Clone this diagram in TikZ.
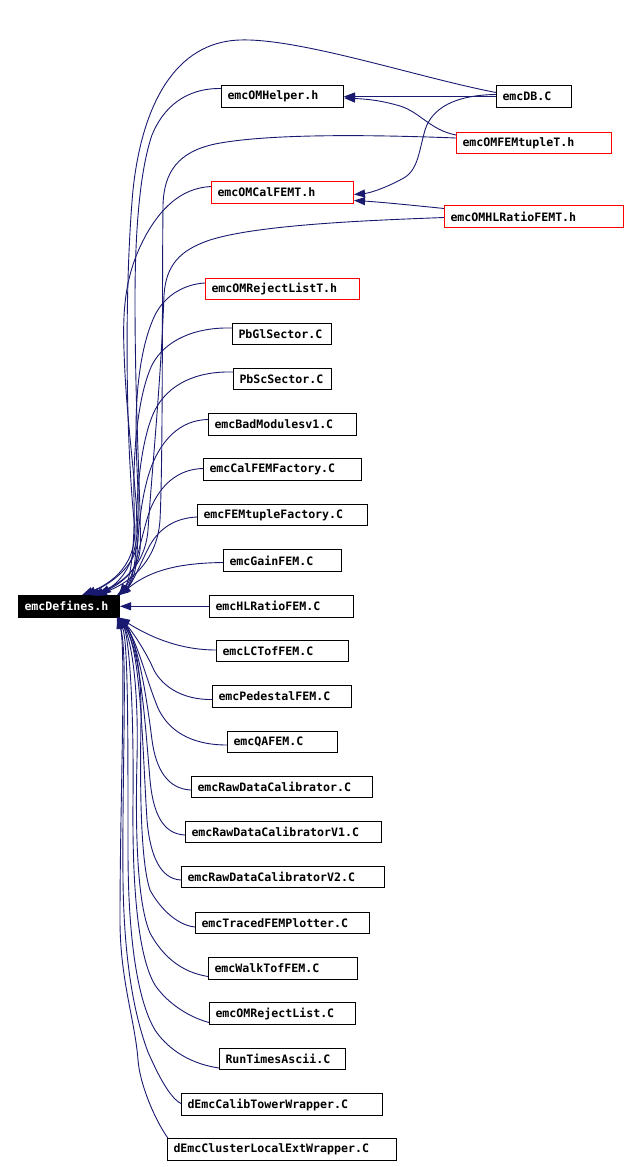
\documentclass[tikz,border=0pt]{standalone}
\usepackage{fontspec}
\setmonofont{DejaVu Sans Mono}
\usepackage{xcolor}
\usepackage{tikz}
\usetikzlibrary{arrows.meta, positioning, calc}
\definecolor{edgeblue}{HTML}{191970}
\definecolor{boxred}{HTML}{FF0000}
\tikzset{
    file/.style={draw=black, line width=1pt, anchor=west, minimum height=21.5pt,
        inner xsep=6pt, inner ysep=0pt, align=left,
        font=\fontsize{11.6}{13}\selectfont\ttfamily\bfseries},
    redfile/.style={file, draw=boxred},
    edge/.style={draw=edgeblue, line width=0.9pt, -{Triangle[length=11pt,width=8pt]}}
}

\begin{document}
\begin{tikzpicture}[x=1pt, y=-1pt]
                \useasboundingbox (0,0) rectangle (639,1167);

                \node[file, fill=black, text=white, text width=89pt] (def) at (18,606.3) {emcDefines.h};

                \node[file, text width=110pt] (helper) at (221,96.5) {emcOMHelper.h};
                \node[file, text width=63pt] (db) at (496,96.5) {emcDB.C};
                \node[redfile, text width=143pt] (tuple) at (456,143) {emcOMFEMtupleT.h};
                \node[redfile, text width=130pt] (calfemt) at (211,192.5) {emcOMCalFEMT.h};
                \node[redfile, text width=167pt] (hlratiot) at (444,216.5) {emcOMHLRatioFEMT.h};
                \node[redfile, text width=142pt] (rejectt) at (205,289) {emcOMRejectListT.h};

                \node[file, text width=87pt] (pbgl) at (232,334) {PbGlSector.C};
                \node[file, text width=86pt] (pbsc) at (233,379) {PbScSector.C};
                \node[file, text width=136pt] (badmod) at (208,424.5) {emcBadModulesv1.C};
                \node[file, text width=146pt] (calfac) at (203,469.5) {emcCalFEMFactory.C};
                \node[file, text width=158pt] (femfac) at (197,515) {emcFEMtupleFactory.C};
                \node[file, text width=106pt] (gain) at (223,560.5) {emcGainFEM.C};
                \node[file, text width=132pt] (hlfem) at (209,606.3) {emcHLRatioFEM.C};
                \node[file, text width=120pt] (lctof) at (216,651) {emcLCTofFEM.C};
                \node[file, text width=127pt] (ped) at (212,696.5) {emcPedestalFEM.C};
                \node[file, text width=98pt] (qa) at (227,742) {emcQAFEM.C};
                \node[file, text width=169pt] (rawcal) at (191,787) {emcRawDataCalibrator.C};
                \node[file, text width=184pt] (rawv1) at (185,832) {emcRawDataCalibratorV1.C};
                \node[file, text width=191pt] (rawv2) at (181,877) {emcRawDataCalibratorV2.C};
                \node[file, text width=162pt] (traced) at (195,923) {emcTracedFEMPlotter.C};
                \node[file, text width=137pt] (walk) at (208,968.5) {emcWalkTofFEM.C};
                \node[file, text width=134pt] (omrej) at (209,1013.5) {emcOMRejectList.C};
                \node[file, text width=114pt] (runtimes) at (219,1059) {RunTimesAscii.C};
                \node[file, text width=189pt] (calibtow) at (181,1104.5) {dEmcCalibTowerWrapper.C};
                \node[file, text width=217pt] (clusterext) at (167,1149.5) {dEmcClusterLocalExtWrapper.C};

                \draw[edge] (db.west) -- (helper.east);
                \draw[edge] ([yshift=8pt]tuple.west) .. controls (430,130) and (420,112) .. (400,106)
                    .. controls (380,100) and (365,99) .. ([yshift=-1.5pt]helper.east);
                \draw[edge] ([yshift=2pt]db.west) .. controls (455,95) and (432,108) .. (425,130)
                    .. controls (418,155) and (418,172) .. (400,180)
                    .. controls (385,188) and (370,193) .. ([yshift=-2pt]calfemt.east);
                \draw[edge] ([yshift=8pt]hlratiot.west) .. controls (420,206) and (380,202) .. ([yshift=-8pt]calfemt.east);

                \draw[edge] ([yshift=4pt]db.west) .. controls (420,78) and (300,38) .. (240,40)
                    .. controls (175,42) and (142,105) .. (133,190)
                    .. controls (124,290) and (126,440) .. (134,520)
                    .. controls (140,565) and (110,584) .. ([xshift=64pt]def.north west);
                \draw[edge] ([yshift=6pt]calfemt.west) .. controls (180,188) and (160,210) .. (146,235)
                    .. controls (128,268) and (122,300) .. (124,350)
                    .. controls (126,420) and (137,490) .. (138,535)
                    .. controls (139,568) and (105,586) .. ([xshift=67pt]def.north west);
                \draw[edge] ([yshift=8pt]helper.west) .. controls (185,88) and (163,108) .. (152,135)
                    .. controls (140,170) and (135,230) .. (135,300)
                    .. controls (135,420) and (142,520) .. (140,550)
                    .. controls (138,575) and (112,588) .. ([xshift=70pt]def.north west);
                \draw[edge] ([yshift=-1pt]hlratiot.west) .. controls (380,220) and (260,224) .. (210,240)
                    .. controls (180,250) and (166,265) .. (164,295)
                    .. controls (161,380) and (152,470) .. (148,530)
                    .. controls (145,568) and (118,587) .. ([xshift=74pt]def.north west);
                \draw[edge] ([yshift=5pt]tuple.west) .. controls (380,135) and (270,133) .. (215,144)
                    .. controls (178,152) and (164,172) .. (163,205)
                    .. controls (162,300) and (163,460) .. (160,520)
                    .. controls (157,565) and (125,585) .. ([xshift=78pt]def.north west);
                \draw[edge] ([yshift=6pt]rejectt.west) .. controls (185,284) and (165,295) .. (155,315)
                    .. controls (143,340) and (136,380) .. (136,430)
                    .. controls (136,500) and (150,560) .. ([xshift=82pt]def.north west);

                \draw[edge] ([yshift=6pt]pbgl.west) .. controls (195,327) and (165,340) .. (152,365)
                    .. controls (138,395) and (133,450) .. (134,500)
                    .. controls (135,550) and (130,580) .. ([xshift=-1pt]def.north east);
                \draw[edge] ([yshift=7pt]pbsc.west) .. controls (195,371) and (168,385) .. (155,410)
                    .. controls (140,440) and (136,500) .. (136,540)
                    .. controls (136,570) and (130,585) .. ([xshift=-2pt]def.north east);
                \draw[edge] ([yshift=5pt]badmod.west) .. controls (180,420) and (162,440) .. (152,465)
                    .. controls (142,490) and (138,530) .. (137,555)
                    .. controls (136,578) and (128,588) .. ([xshift=-3pt]def.north east);
                \draw[edge] ([yshift=1pt]calfac.west) .. controls (178,469) and (160,485) .. (150,510)
                    .. controls (142,532) and (135,575) .. ([xshift=-1pt]def.north east);
                \draw[edge] ([yshift=-2pt]femfac.west) .. controls (175,518) and (160,528) .. (150,545)
                    .. controls (142,560) and (132,585) .. ([xshift=-2pt]def.north east);
                \draw[edge] ([yshift=-2pt]gain.west) .. controls (180,563) and (150,570) .. (def.north east);

                \draw[edge] (hlfem.west) -- (def.east);

                \draw[edge] ([yshift=1pt]lctof.west) .. controls (180,650) and (150,637) .. ([xshift=-1pt]def.south east);
                \draw[edge] ([yshift=-3pt]ped.west) .. controls (180,700) and (160,684) .. (153,668)
                    .. controls (145,650) and (130,628) .. ([xshift=-2pt]def.south east);
                \draw[edge] ([yshift=-3pt]qa.west) .. controls (190,745) and (168,730) .. (158,708)
                    .. controls (147,682) and (137,640) .. ([xshift=-1pt]def.south east);
                \draw[edge] ([yshift=-3pt]rawcal.west) .. controls (168,789) and (156,770) .. (152,740)
                    .. controls (147,700) and (138,640) .. ([xshift=-2pt]def.south east);
                \draw[edge] ([yshift=-3pt]rawv1.west) .. controls (162,834) and (153,812) .. (150,780)
                    .. controls (145,720) and (140,645) .. ([xshift=-3pt]def.south east);
                \draw[edge] ([yshift=-3pt]rawv2.west) .. controls (160,879) and (150,855) .. (147,820)
                    .. controls (142,740) and (141,650) .. ([xshift=-1pt]def.south east);
                \draw[edge] ([yshift=-4pt]traced.west) .. controls (175,925) and (158,905) .. (150,890)
                    .. controls (140,860) and (140,780) .. (141,720)
                    .. controls (142,660) and (131,630) .. ([xshift=-2pt]def.south east);
                \draw[edge] ([yshift=-8pt]walk.west) .. controls (180,972) and (162,955) .. (150,933)
                    .. controls (138,905) and (135,840) .. (137,760)
                    .. controls (139,680) and (130,635) .. ([xshift=-3pt]def.south east);
                \draw[edge] ([yshift=-9pt]omrej.west) .. controls (185,1016) and (165,1000) .. (155,985)
                    .. controls (140,960) and (132,900) .. (133,800)
                    .. controls (134,690) and (128,635) .. ([xshift=-1pt]def.south east);
                \draw[edge] ([yshift=-9pt]runtimes.west) .. controls (185,1063) and (165,1045) .. (155,1030)
                    .. controls (140,1005) and (128,950) .. (128,850)
                    .. controls (128,720) and (128,640) .. ([xshift=-2pt]def.south east);
                \draw[edge] ([yshift=1pt]calibtow.west) .. controls (170,1098) and (158,1075) .. (148,1052)
                    .. controls (134,1015) and (124,960) .. (123,880)
                    .. controls (122,760) and (128,650) .. ([xshift=-3pt]def.south east);
                \draw[edge] ([xshift=1pt]clusterext.north west) .. controls (155,1120) and (140,1085) .. (138,1060)
                    .. controls (135,1020) and (120,980) .. (120,920)
                    .. controls (120,800) and (126,660) .. ([xshift=-1pt]def.south east);
\end{tikzpicture}
\end{document}
